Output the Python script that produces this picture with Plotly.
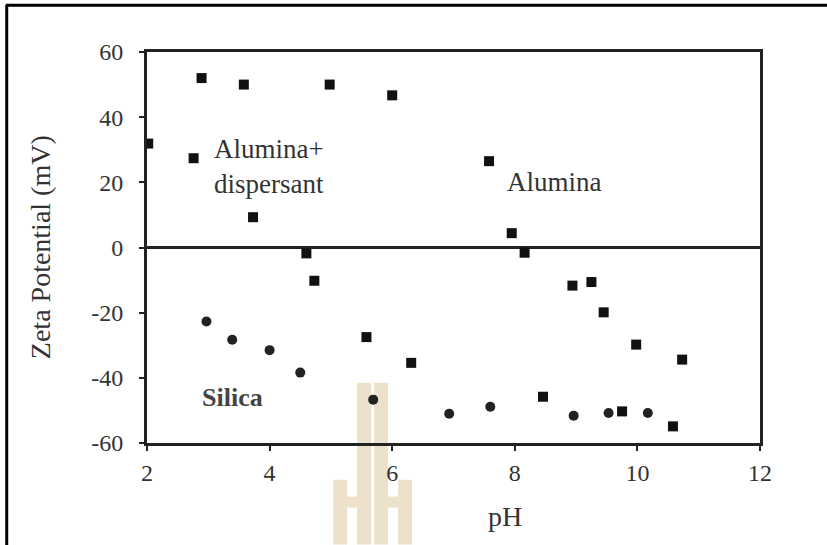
import plotly.graph_objects as go

# Zeta potential (mV) against pH
alumina_disp_ph = [2.02, 2.76, 2.89, 3.58, 3.73, 4.60, 4.73, 5.58, 6.31, 8.46, 9.75, 10.58]
alumina_disp_zeta = [31.9, 27.4, 52.0, 50.0, 9.3, -1.8, -10.2, -27.5, -35.4, -45.8, -50.3, -54.9]

alumina_ph = [4.98, 6.00, 7.58, 7.95, 8.16, 8.94, 9.25, 9.45, 9.98, 10.73]
alumina_zeta = [50.0, 46.7, 26.5, 4.4, -1.6, -11.7, -10.6, -19.9, -29.8, -34.4]

silica_ph = [2.97, 3.39, 4.00, 4.50, 5.69, 6.93, 7.60, 8.96, 9.53, 10.17]
silica_zeta = [-22.7, -28.3, -31.5, -38.4, -46.7, -51.0, -48.9, -51.6, -50.8, -50.8]

x_ticks = [2, 4, 6, 8, 10, 12]
y_ticks = [-60, -40, -20, 0, 20, 40, 60]
y_tick_labels = ["-60", "-40", "-20", "0", "20", "40", "60"]

W, H = 827, 545
L, R, T, B = 146.5, 66.5, 51.7, 101.7
pw, ph = W - L - R, H - T - B

SERIF = "Liberation Serif, Times New Roman, serif"
AXIS = "#222222"

fig = go.Figure()
fig.add_trace(go.Scatter(x=alumina_disp_ph, y=alumina_disp_zeta, mode="markers",
                         name="Alumina+dispersant",
                         marker=dict(symbol="square", size=10, color="#111111")))
fig.add_trace(go.Scatter(x=alumina_ph, y=alumina_zeta, mode="markers", name="Alumina",
                         marker=dict(symbol="square", size=10, color="#111111")))
fig.add_trace(go.Scatter(x=silica_ph, y=silica_zeta, mode="markers", name="Silica",
                         marker=dict(symbol="circle", size=10, color="#222222")))

axis_common = dict(showline=True, linecolor=AXIS, linewidth=3, mirror=True,
                   ticks="outside", ticklen=5, tickwidth=2, tickcolor=AXIS,
                   showgrid=False, tickfont=dict(family=SERIF, size=24, color="#333333"))

fig.update_xaxes(range=[2, 12], tickvals=x_ticks, zeroline=False,
                 ticklabelstandoff=1, **axis_common)
fig.update_yaxes(range=[-60, 60], tickvals=y_ticks, ticktext=y_tick_labels,
                 zeroline=True, zerolinecolor=AXIS, zerolinewidth=3,
                 ticklabelstandoff=11, **axis_common)


def px_x(p):
    return (p - L) / pw


def px_y(p):
    return (H - B - p) / ph


annotations = [
    dict(x=3.99, y=25.0, xref="x", yref="y", text="Alumina+<br>dispersant",
         showarrow=False, font=dict(family=SERIF, size=27, color="#333333")),
    dict(x=8.65, y=20.1, xref="x", yref="y", text="Alumina",
         showarrow=False, font=dict(family=SERIF, size=27, color="#333333")),
    dict(x=3.39, y=-46.1, xref="x", yref="y", text="<b>Silica</b>",
         showarrow=False, font=dict(family=SERIF, size=26, color="#444444")),
    dict(x=px_x(40), y=0.5, xref="paper", yref="paper", text="Zeta Potential (mV)",
         xanchor="center", yanchor="middle", textangle=-90, showarrow=False,
         font=dict(family=SERIF, size=28, color="#333333")),
    dict(x=px_x(505), y=px_y(517), xref="paper", yref="paper", text="pH",
         xanchor="center", yanchor="middle", showarrow=False,
         font=dict(family=SERIF, size=28, color="#333333")),
]

# outer frame (left and top edges)
shapes = [
    dict(type="line", xref="paper", yref="paper", x0=px_x(6), x1=px_x(6),
         y0=px_y(5), y1=px_y(560), line=dict(color="black", width=3)),
    dict(type="line", xref="paper", yref="paper", x0=px_x(5), x1=px_x(840),
         y0=px_y(5), y1=px_y(5), line=dict(color="black", width=3)),
]

# faint emblem behind the lower middle of the chart
tan = "rgba(225, 205, 170, 0.6)"
for x0, x1, y0, y1 in [(333, 347, 480, 545), (347, 357, 497, 508),
                       (357, 371, 383, 545), (374, 388, 383, 545),
                       (388, 398, 497, 508), (398, 412, 480, 545)]:
    shapes.append(dict(type="rect", xref="paper", yref="paper", layer="below",
                       x0=px_x(x0), x1=px_x(x1), y0=px_y(y1), y1=px_y(y0),
                       line=dict(width=0), fillcolor=tan))

fig.update_layout(width=W, height=H, showlegend=False,
                  margin=dict(l=L, r=R, t=T, b=B),
                  paper_bgcolor="white", plot_bgcolor="rgba(0,0,0,0)",
                  annotations=annotations, shapes=shapes)

fig.write_html("out.html")
